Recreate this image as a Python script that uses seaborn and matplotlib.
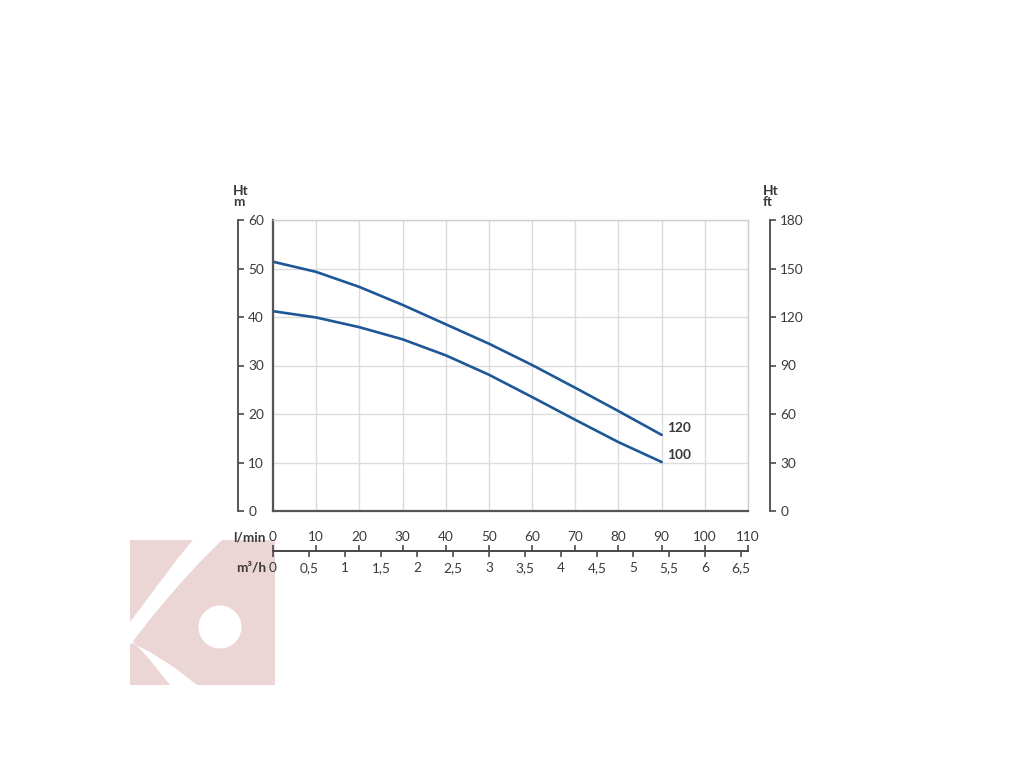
import matplotlib
matplotlib.use("Agg")
import matplotlib.pyplot as plt
import numpy as np
import pandas as pd
import seaborn as sns
from matplotlib.patches import Polygon, Circle, Rectangle

# ---------------- data ----------------
flow_lmin = [0, 10, 20, 30, 40, 50, 60, 70, 80, 90]
head_120 = [51.4, 49.3, 46.2, 42.5, 38.5, 34.5, 30.1, 25.4, 20.6, 15.7]
head_100 = [41.2, 39.9, 37.9, 35.4, 32.1, 28.1, 23.5, 18.8, 14.2, 10.1]
models = ["120", "100"]

lmin_ticks = list(range(0, 111, 10))
m3h_ticks = [0, 0.5, 1, 1.5, 2, 2.5, 3, 3.5, 4, 4.5, 5, 5.5, 6, 6.5]
m3h_labels = ["0", "0,5", "1", "1,5", "2", "2,5", "3", "3,5", "4", "4,5",
              "5", "5,5", "6", "6,5"]
m_ticks = list(range(0, 61, 10))
ft_ticks = list(range(0, 181, 30))

df = pd.DataFrame({
    "flow": flow_lmin * 2,
    "head": head_120 + head_100,
    "model": [models[0]] * len(flow_lmin) + [models[1]] * len(flow_lmin),
})

# ---------------- style ----------------
sns.set_theme(style="white")
plt.rcParams["font.family"] = ["Lato", "DejaVu Sans"]
TXT = "#3a3a3a"
AX = "#4a4a4a"
BLUE = "#1d5797"
GRID = "#dcdcdc"
PINK = "#ebd5d5"
FS = 9.8

W, H = 1024, 768
fig = plt.figure(figsize=(W / 100, H / 100), dpi=100)

# ---------------- watermark (background) ----------------
wm = fig.add_axes([0, 0, 1, 1], zorder=0)
wm.set_xlim(0, W)
wm.set_ylim(H, 0)
wm.axis("off")
clip = Rectangle((130, 540), 145, 145, transform=wm.transData)
base = Rectangle((130, 540), 145, 145, color=PINK, lw=0)
wm.add_patch(base)
stripeA = Polygon([(193, 540), (178, 558), (163, 578), (148, 598), (130, 622),
                   (130, 645), (155, 613), (178, 586), (200, 562), (222, 540)],
                  closed=True, color="white", lw=0)
stripeB = Polygon([(130, 638), (150, 660), (170, 685), (197, 685),
                   (175, 668), (150, 652), (130, 642)],
                  closed=True, color="white", lw=0)
hole = Circle((220, 627), 21.5, color="white", lw=0)
for p in (stripeA, stripeB, hole):
    wm.add_patch(p)
    p.set_clip_path(clip)

# ---------------- main plot ----------------
L, R_, T, B = 273, 748, 220, 511
ax = fig.add_axes([L / W, 1 - B / H, (R_ - L) / W, (B - T) / H], zorder=2)
ax.patch.set_alpha(0)
ax.set_xlim(0, 110)
ax.set_ylim(0, 60)
ax.set_xticks(lmin_ticks)
ax.set_yticks(m_ticks)
ax.grid(True, color=GRID, lw=1)
ax.tick_params(length=0, labelbottom=False, labelleft=False)
for s in ("top", "right"):
    ax.spines[s].set_color("#cfcfcf")
    ax.spines[s].set_linewidth(1)
for s in ("left", "bottom"):
    ax.spines[s].set_color("#555555")
    ax.spines[s].set_linewidth(1.6)

sns.lineplot(data=df, x="flow", y="head", hue="model",
             palette=[BLUE, BLUE], legend=False, ax=ax, lw=1.9)
ax.set_xlabel("")
ax.set_ylabel("")

ax.text(91.3, 17.2, "120", fontsize=FS, fontweight="bold", color=TXT,
        ha="left", va="center")
ax.text(91.3, 11.6, "100", fontsize=FS, fontweight="bold", color=TXT,
        ha="left", va="center")


def hide_spines(a, keep):
    for s in ("left", "right", "top", "bottom"):
        a.spines[s].set_visible(s == keep)
    a.spines[keep].set_color(AX)
    a.spines[keep].set_linewidth(1.3)


TL = 4.4  # tick length in points (~6 px)

# left metre scale (line at x=238, ticks/labels to the right)
axL = ax.twinx()
axL.set_ylim(0, 60)
axL.set_yticks(m_ticks)
axL.spines["right"].set_position(("axes", (238 - L) / (R_ - L)))
hide_spines(axL, "right")
axL.tick_params(axis="y", direction="out", length=TL, width=1.2, color=AX,
                labelsize=FS, labelcolor=TXT, pad=3)
axL.grid(False)

# right feet scale
axR = ax.twinx()
axR.set_ylim(0, 180)
axR.set_yticks(ft_ticks)
axR.spines["right"].set_position(("axes", (770 - L) / (R_ - L)))
hide_spines(axR, "right")
axR.tick_params(axis="y", direction="out", length=TL, width=1.2, color=AX,
                labelsize=FS, labelcolor=TXT, pad=3)
axR.grid(False)

# l/min scale (above the bottom line)
off = -(551 - B) / (B - T)
axT = ax.twiny()
axT.set_xlim(0, 110)
axT.set_xticks(lmin_ticks)
axT.spines["top"].set_position(("axes", off))
hide_spines(axT, "top")
axT.tick_params(axis="x", direction="out", length=TL, width=1.2, color=AX,
                labelsize=FS, labelcolor=TXT, pad=1.5)
axT.grid(False)

# m3/h scale (below the bottom line)
axB = ax.twiny()
axB.xaxis.set_ticks_position("bottom")
axB.xaxis.set_label_position("bottom")
axB.set_xlim(0, 110 * 60 / 1000)
axB.set_xticks(m3h_ticks)
axB.set_xticklabels(m3h_labels)
axB.spines["bottom"].set_position(("axes", off))
hide_spines(axB, "bottom")
axB.tick_params(axis="x", direction="out", length=TL, width=1.2, color=AX,
                labelsize=FS, labelcolor=TXT, pad=3.5, top=False)
axB.grid(False)

# unit labels
def ftext(x, y, s, ha="left"):
    fig.text(x / W, 1 - y / H, s, ha=ha, va="center", fontsize=FS,
             fontweight="bold", color=TXT)

ftext(233, 191, "Ht")
ftext(233, 202, "m")
ftext(763, 191, "Ht")
ftext(763, 202, "ft")
ftext(266, 537, "l/min", ha="right")
ftext(266, 568, "m³/h", ha="right")

fig.savefig("out.png", dpi=100)
